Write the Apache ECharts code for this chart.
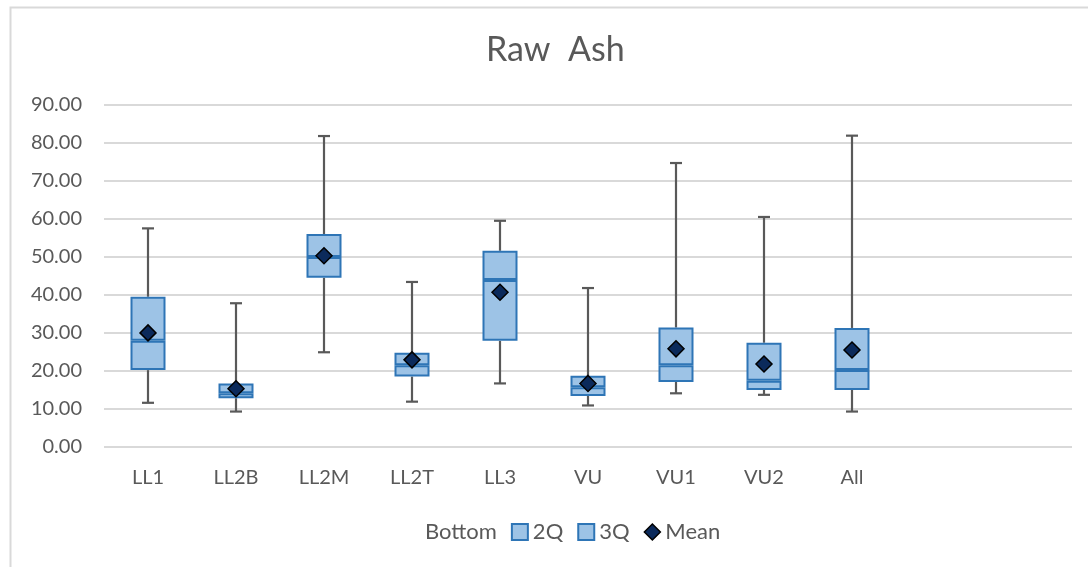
<!DOCTYPE html>
<html>
<head>
<meta charset="utf-8">
<script src="https://cdn.jsdelivr.net/npm/echarts@6/dist/echarts.min.js"></script>
<style>html,body{margin:0;padding:0;background:#fff}#c{width:1088px;height:567px}</style>
</head>
<body>
<div id="c"></div>
<script>
const categories = ['LL1','LL2B','LL2M','LL2T','LL3','VU','VU1','VU2','All','',''];
const minVals = [11.5, 9.2, 24.8, 11.8, 16.6, 10.8, 14.0, 13.6, 9.2];
const q1Vals  = [20.1, 12.7, 44.4, 18.4, 27.8, 13.3, 17.0, 14.9, 14.9];
const medVals = [27.8, 14.0, 49.9, 21.4, 43.8, 15.6, 21.4, 17.3, 20.1];
const q3Vals  = [39.4, 16.6, 55.9, 24.7, 51.5, 18.6, 31.3, 27.3, 31.2];
const maxVals = [57.4, 37.7, 81.7, 43.3, 59.4, 41.7, 74.6, 60.4, 81.8];
const meanVals = [29.9, 15.2, 50.2, 22.8, 40.6, 16.6, 25.7, 21.7, 25.4];
const yTicks = { min: 0, max: 90, interval: 10 };

const FONT = 'Lato';
const boxFill = '#9DC3E6', boxBorder = '#2E75B6', whisk = '#595959', txt = '#595959';

const bottom = q1Vals.slice();
const q2 = medVals.map((m, i) => +(m - q1Vals[i]).toFixed(2));
const q3 = q3Vals.map((v, i) => +(v - medVals[i]).toFixed(2));
const whiskData = minVals.map((mn, i) => [i, mn, q1Vals[i], q3Vals[i], maxVals[i]]);

const chart = echarts.init(document.getElementById('c'), null, {renderer: 'canvas'});
chart.setOption({
  animation: false,
  backgroundColor: '#fff',
  graphic: [{
    type: 'rect', left: 8, top: 5, shape: {width: 1100, height: 620},
    style: {fill: 'none', stroke: '#D9D9D9', lineWidth: 2}, silent: true, z: -1
  }],
  title: {
    text: 'Raw  Ash', left: 481, top: 28,
    textStyle: {fontFamily: FONT, fontSize: 34, fontWeight: 'normal', color: txt}
  },
  legend: {
    left: 399, top: 516, itemWidth: 16, itemHeight: 16, itemGap: 14,
    textStyle: {fontFamily: FONT, fontSize: 22, color: txt},
    data: [
      {name: 'Bottom', icon: 'rect', itemStyle: {color: 'rgba(0,0,0,0)', borderColor: 'rgba(0,0,0,0)'}},
      {name: '2Q', icon: 'rect', itemStyle: {color: boxFill, borderColor: boxBorder, borderWidth: 2}},
      {name: '3Q', icon: 'rect', itemStyle: {color: boxFill, borderColor: boxBorder, borderWidth: 2}},
      {name: 'Mean', icon: 'diamond', itemStyle: {color: '#0B2A5B', borderColor: '#000', borderWidth: 1.5}}
    ]
  },
  grid: {left: 104, right: 16, top: 104.5, bottom: 120.5, containLabel: false},
  xAxis: {
    type: 'category', data: categories,
    axisLine: {show: false}, axisTick: {show: false},
    axisLabel: {fontFamily: FONT, fontSize: 20, color: txt, margin: 21, interval: 0}
  },
  yAxis: {
    type: 'value', min: yTicks.min, max: yTicks.max, interval: yTicks.interval,
    axisLine: {show: false}, axisTick: {show: false},
    axisLabel: {fontFamily: FONT, fontSize: 20, color: txt, margin: 22, formatter: v => v.toFixed(2)},
    splitLine: {lineStyle: {color: '#D9D9D9', width: 2}}
  },
  series: [
    {name: 'Bottom', type: 'bar', stack: 'box', barWidth: 35, data: bottom,
     itemStyle: {color: 'rgba(0,0,0,0)'}, silent: true},
    {name: '2Q', type: 'bar', stack: 'box', barWidth: 35, data: q2,
     itemStyle: {color: boxFill, borderColor: boxBorder, borderWidth: 2}},
    {name: '3Q', type: 'bar', stack: 'box', barWidth: 35, data: q3,
     itemStyle: {color: boxFill, borderColor: boxBorder, borderWidth: 2}},
    {name: 'Whiskers', type: 'custom', data: whiskData, z: 1,
     renderItem: function (params, api) {
       const x = api.value(0);
       const pMin = api.coord([x, api.value(1)]);
       const pQ1 = api.coord([x, api.value(2)]);
       const pQ3 = api.coord([x, api.value(3)]);
       const pMax = api.coord([x, api.value(4)]);
       const cx = pMin[0], hw = 6;
       const st = {stroke: whisk, lineWidth: 2.2};
       return {type: 'group', children: [
         {type: 'line', shape: {x1: cx, y1: pMin[1], x2: cx, y2: pQ1[1]}, style: st},
         {type: 'line', shape: {x1: cx, y1: pQ3[1], x2: cx, y2: pMax[1]}, style: st},
         {type: 'line', shape: {x1: cx - hw, y1: pMin[1], x2: cx + hw, y2: pMin[1]}, style: st},
         {type: 'line', shape: {x1: cx - hw, y1: pMax[1], x2: cx + hw, y2: pMax[1]}, style: st}
       ]};
     }},
    {name: 'Mean', type: 'scatter', data: meanVals, symbol: 'diamond', symbolSize: 16, z: 5,
     itemStyle: {color: '#0B2A5B', borderColor: '#000', borderWidth: 1.5, opacity: 1}}
  ]
});
</script>
</body>
</html>
